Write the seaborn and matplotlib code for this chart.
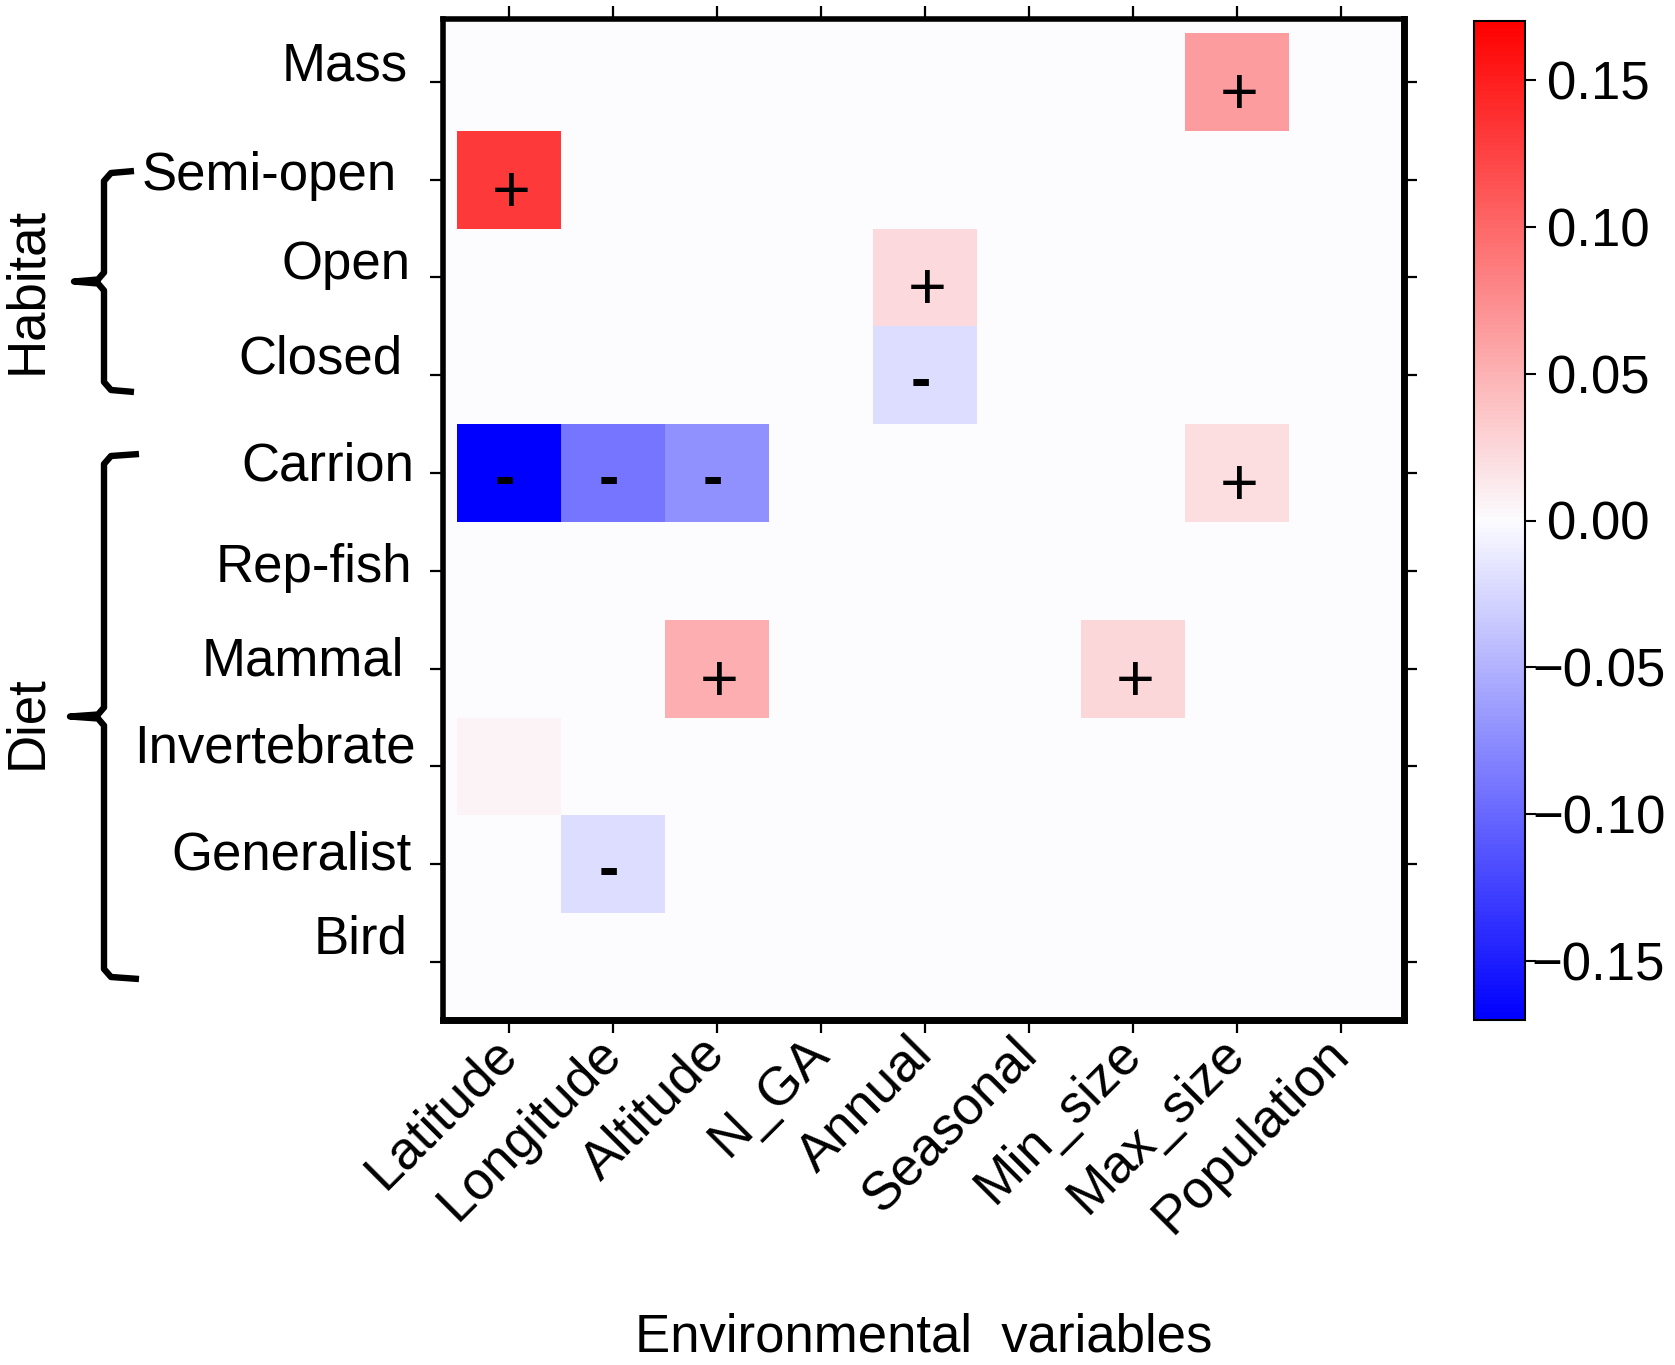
import numpy as np
import pandas as pd
import matplotlib
matplotlib.use("Agg")
import matplotlib.pyplot as plt
import seaborn as sns
from matplotlib.colors import LinearSegmentedColormap
from matplotlib.lines import Line2D
from matplotlib.transforms import ScaledTranslation

# ---------------- data ----------------
env_vars = ["Latitude", "Longitude", "Altitude", "N_GA", "Annual",
            "Seasonal", "Min_size", "Max_size", "Population"]
traits = ["Mass", "Semi-open", "Open", "Closed", "Carrion", "Rep-fish",
          "Mammal", "Invertebrate", "Generalist", "Bird"]

mass         = [0.0,    0.0,    0.0,   0.0, 0.0,    0.0, 0.0,   0.065, 0.0]
semi_open    = [0.131,  0.0,    0.0,   0.0, 0.0,    0.0, 0.0,   0.0,   0.0]
open_hab     = [0.0,    0.0,    0.0,   0.0, 0.023,  0.0, 0.0,   0.0,   0.0]
closed       = [0.0,    0.0,    0.0,   0.0, -0.021, 0.0, 0.0,   0.0,   0.0]
carrion      = [-0.17, -0.091, -0.073, 0.0, 0.0,    0.0, 0.0,   0.021, 0.0]
rep_fish     = [0.0,    0.0,    0.0,   0.0, 0.0,    0.0, 0.0,   0.0,   0.0]
mammal       = [0.0,    0.0,    0.053, 0.0, 0.0,    0.0, 0.025, 0.0,   0.0]
invertebrate = [0.006,  0.0,    0.0,   0.0, 0.0,    0.0, 0.0,   0.0,   0.0]
generalist   = [0.0,   -0.021,  0.0,   0.0, 0.0,    0.0, 0.0,   0.0,   0.0]
bird         = [0.0,    0.0,    0.0,   0.0, 0.0,    0.0, 0.0,   0.0,   0.0]

sign_mass         = ["", "", "", "", "", "", "", "+", ""]
sign_semi_open    = ["+", "", "", "", "", "", "", "", ""]
sign_open         = ["", "", "", "", "+", "", "", "", ""]
sign_closed       = ["", "", "", "", "-", "", "", "", ""]
sign_carrion      = ["-", "-", "-", "", "", "", "", "+", ""]
sign_rep_fish     = ["", "", "", "", "", "", "", "", ""]
sign_mammal       = ["", "", "+", "", "", "", "+", "", ""]
sign_invertebrate = ["", "", "", "", "", "", "", "", ""]
sign_generalist   = ["", "-", "", "", "", "", "", "", ""]
sign_bird         = ["", "", "", "", "", "", "", "", ""]

cbar_ticks = [-0.15, -0.10, -0.05, 0.00, 0.05, 0.10, 0.15]
cbar_labels = ["\u22120.15", "\u22120.10", "\u22120.05", "0.00", "0.05", "0.10", "0.15"]

values = pd.DataFrame([mass, semi_open, open_hab, closed, carrion, rep_fish,
                       mammal, invertebrate, generalist, bird],
                      index=traits, columns=env_vars)
signs = pd.DataFrame([sign_mass, sign_semi_open, sign_open, sign_closed,
                      sign_carrion, sign_rep_fish, sign_mammal,
                      sign_invertebrate, sign_generalist, sign_bird],
                     index=traits, columns=env_vars)

# ---------------- style ----------------
W, H = 1675, 1365
plt.rcParams["font.family"] = ["Liberation Sans", "DejaVu Sans"]
fig = plt.figure(figsize=(W / 100, H / 100), dpi=100)

def fx(px):
    return px / W

def fy(py):
    return 1 - py / H

ax = fig.add_axes([fx(443), fy(1020), fx(1404) - fx(443), fy(19) - fy(1020)])
cax = fig.add_axes([fx(1474), fy(1020), fx(1525) - fx(1474), fy(21) - fy(1020)])

cmap = LinearSegmentedColormap.from_list("bwr_ref", ["#0000FF", "#FCFCFF", "#FF0000"])

sns.heatmap(values, ax=ax, cbar_ax=cax, cmap=cmap, vmin=-0.17, vmax=0.17,
            annot=signs, fmt="", annot_kws={"size": 48, "color": "black"},
            linewidths=0)

ax.set_facecolor(cmap(0.5))
ax.set_xlim(-0.135, 9.106)
ax.set_ylim(10.092, -0.143)

for s in ax.spines.values():
    s.set_visible(True)
    s.set_color("black")
    s.set_linewidth(4)
ax.spines["right"].set_linewidth(5)
ax.spines["bottom"].set_linewidth(5)

ax.tick_params(axis="both", which="major", direction="out", length=9.5,
               width=1.6, color="black", top=True, right=True,
               labeltop=False, labelright=False)
ax.tick_params(axis="y", pad=10, labelsize=38)
ax.tick_params(axis="x", pad=9, labelsize=38.5)

ax.set_yticklabels(traits, rotation=0)
ax.set_xticklabels(env_vars, rotation=45, ha="right", va="center",
                   rotation_mode="anchor")

# fine placement of y labels (pixels)
y_dx = [-8, -19, -5, -13, -2, -4, -12, 0, -4, -8]
y_dy = [15, 4, 12, 16, 7, 3, 7, 18, 9, 23]
for lab, dx, dy in zip(ax.get_yticklabels(), y_dx, y_dy):
    lab.set_transform(lab.get_transform() +
                      ScaledTranslation(dx / 100, dy / 100, fig.dpi_scale_trans))

# annotation symbols
for t in ax.texts:
    if t.get_text() == "-":
        t.set_fontweight("bold")
        t.set_fontsize(44)
        off = ScaledTranslation(-4 / 100, -7 / 100, fig.dpi_scale_trans)
    else:
        off = ScaledTranslation(2 / 100, -15 / 100, fig.dpi_scale_trans)
    t.set_transform(t.get_transform() + off)

ax.set_xlabel("Environmental  variables", fontsize=38)
ax.set_ylabel("")
ax.xaxis.set_label_coords(0.5, (fy(1352) - fy(1020)) / (fy(19) - fy(1020)))
ax.xaxis.label.set_va("baseline")

# colorbar
cb = ax.collections[0].colorbar
cb.set_ticks(cbar_ticks)
cb.set_ticklabels(cbar_labels)
cb.outline.set_linewidth(1.5)
cb.outline.set_edgecolor("black")
cax.tick_params(labelsize=38, length=8, width=1.5, pad=45, direction="out")
for lab in cax.get_yticklabels():
    lab.set_horizontalalignment("center")

# group labels and braces
fig.text(fx(27), fy(290), "Habitat", rotation=90, ha="center", va="center", fontsize=38)
fig.text(fx(27), fy(722), "Diet", rotation=90, ha="center", va="center", fontsize=38)

def brace(x, top, bot, hx, tip):
    mid = (top + bot) / 2
    px = [hx, x + 7, x, x, x - 6, tip, x - 6, x, x, x + 7, hx]
    py = [top, top + 2, top + 10, mid - 9, mid - 2, mid, mid + 2, mid + 9,
          bot - 10, bot - 2, bot]
    fig.add_artist(Line2D([fx(p) for p in px], [fy(p) for p in py],
                          transform=fig.transFigure, color="black", lw=4.6,
                          solid_joinstyle="round", solid_capstyle="butt"))

brace(104, 171, 392, 134, 74)
brace(104, 454, 979, 139, 70)

fig.savefig("out.png", dpi=100)
